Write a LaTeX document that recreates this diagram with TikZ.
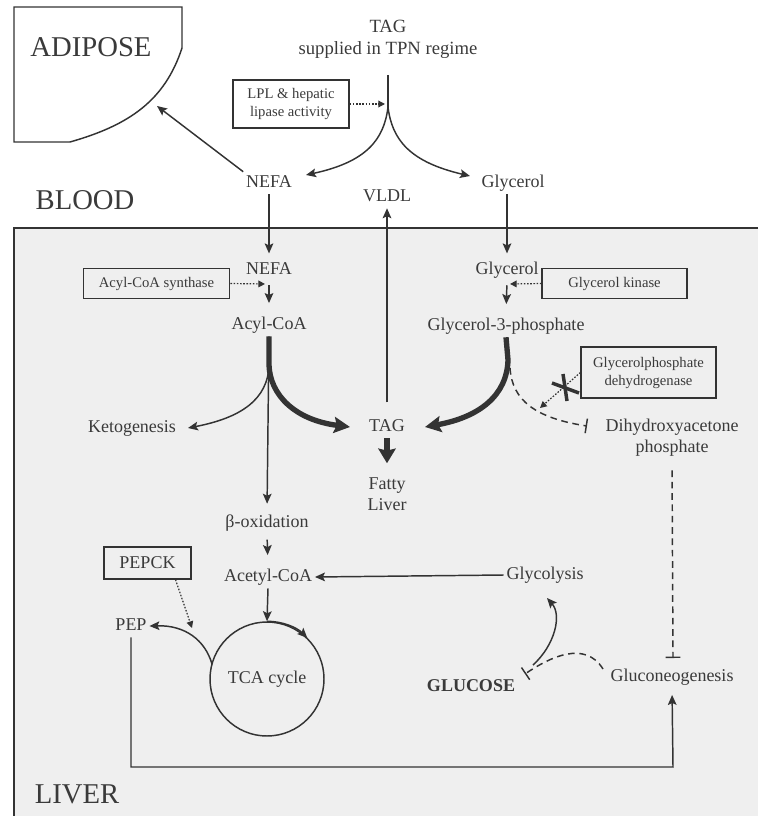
\documentclass[tikz,border=0pt]{standalone}
\usepackage{fontspec}
\setmainfont{Liberation Serif}
\usetikzlibrary{arrows.meta,calc}
\definecolor{ink}{HTML}{333333}
\definecolor{txt}{HTML}{3A3A3A}
\definecolor{liverbg}{HTML}{EFEFEF}
\newcommand\mainf{\fontsize{13.5}{16}\selectfont}
\newcommand\topf{\fontsize{14}{16.5}\selectfont}
\newcommand\smallf{\fontsize{11}{13.5}\selectfont}
\newcommand\bigf{\fontsize{21.5}{24}\selectfont}
\begin{document}
\begin{tikzpicture}[x=0.75pt,y=-0.75pt,
  tx/.style={font=\mainf, text=txt, inner sep=2pt, text height=9.5pt, text depth=3pt},
  ml/.style={font=\mainf, text=txt, inner sep=2pt, align=center},
  enz/.style={draw=ink, line width=0.9pt, font=\smallf, text=txt, align=center, inner sep=2pt},
  big/.style={font=\bigf, text=txt, inner sep=0pt},
  arr/.style={draw=ink, line width=1.1pt, -{Stealth[length=7.5pt,width=6.5pt,inset=1.5pt]}},
  plain/.style={draw=ink, line width=1.1pt},
  thk/.style={draw=ink, line width=4pt, -{Stealth[length=12pt,width=12pt,inset=2pt]}},
  dotarr/.style={draw=ink, line width=0.9pt, dash pattern=on 1.2pt off 1.2pt, -{Triangle[length=5pt,width=5pt]}},
  inh/.style={draw=ink, line width=1.1pt, dash pattern=on 5pt off 3.5pt, -{Bar[width=11pt]}},
]
\useasboundingbox (0,0) rectangle (758,816);

% liver region
\fill[liverbg] (14,228) rectangle (758,816);
\draw[plain] (758,228) -- (14,228) -- (14,816);

% adipose
\draw[draw=ink, line width=1.1pt] (14,7) -- (182,7) -- (182,48) .. controls (165,100) and (130,125) .. (70,142) -- (14,142) -- cycle;
\node[big] (adipose) at (91,47) {ADIPOSE};
\node[big] (blood) at (85,200) {BLOOD};
\node[big] (liver) at (77,794) {LIVER};

% top
\node[ml, font=\topf] (tagT) at (388,39) {TAG\\supplied in TPN regime};
\coordinate (lplTop) at (388,75);
\coordinate (split) at (388,107);
\coordinate (nefaIn) at (306,175);
\coordinate (glyIn) at (470,176);
\coordinate (lplHit) at (385,104);
\coordinate (adipIn) at (157,106);

\node[enz, minimum width=87pt, minimum height=36pt] (lpl) at (291,104) {LPL \& hepatic\\lipase activity};

\node[tx] (nefaB) at (269,183) {NEFA};
\node[tx] (glyB) at (513,183) {Glycerol};
\node[tx] (vldl) at (387,197) {VLDL};

\draw[plain] (lplTop) -- (split);
\draw[arr] (split) .. controls (384,140) and (366,162) .. (nefaIn);
\draw[arr] (split) .. controls (392,140) and (410,162) .. (glyIn);
\draw[dotarr] (lpl.east) -- (lplHit);
\draw[arr] (nefaB.north west) -- (adipIn);

% liver nodes
\node[tx] (nefaL) at (269,270) {NEFA};
\node[tx] (acyl) at (269,325) {Acyl-CoA};
\node[enz, minimum width=110pt, minimum height=23pt] (syn) at (156.5,283.5) {Acyl-CoA synthase};
\node[tx] (glyL) at (507,270) {Glycerol};
\node[tx] (g3p) at (506,326) {Glycerol-3-phosphate};
\node[enz, minimum width=108.75pt, minimum height=23pt] (kin) at (614.5,283.5) {Glycerol kinase};
\node[enz, minimum width=101.25pt, minimum height=38.25pt] (gpdh) at (648.5,372.5) {Glycerolphosphate\\dehydrogenase};
\node[tx] (keto) at (132,428) {Ketogenesis};
\node[tx] (tagL) at (387,427) {TAG};
\node[ml] (fatty) at (387,494) {Fatty\\Liver};
\node[ml] (dhap) at (672,438) {Dihydroxyacetone\\phosphate};
\node[tx] (beta) at (267,523) {β-oxidation};
\node[tx] (acetyl) at (268,577) {Acetyl-CoA};
\node[tx] (glycol) at (545,575) {Glycolysis};
\node[tx] (gluco) at (672,677) {Gluconeogenesis};
\node[tx, font=\mainf\bfseries] (glucose) at (471,687) {GLUCOSE};
\node[tx] (pep) at (131,626) {PEP};
\node[enz, font=\mainf, minimum width=65.25pt, minimum height=24pt] (pepck) at (147.5,563) {PEPCK};
\node[circle, draw=ink, line width=1.1pt, minimum size=85.5pt, inner sep=0pt, font=\mainf, text=txt] (tca) at (267,679) {TCA cycle};

% coordinates
\coordinate (synHit) at (265,284);
\coordinate (kinHit) at (510,284);
\coordinate (acylSplit) at (269,365);
\coordinate (ketoIn) at (188,428);
\coordinate (tagLIn) at (350,427);
\coordinate (tagRIn) at (425,427);
\coordinate (g3pBend) at (508,360);
\coordinate (dashStart) at (510,368);
\coordinate (dhapBar) at (587,426);
\coordinate (gpdhHit) at (540,408);
\coordinate (xc) at (565,388);
\coordinate (pbot) at (673,767);
\coordinate (glcStart) at (533,665);
\coordinate (glcBar) at (525,674);
\coordinate (glycIn) at (547,598);
\coordinate (gngOut) at (603,669);
\coordinate (gngBar) at (673,658);
\coordinate (pepOut) at (212,664);
\coordinate (pepckHit) at (192,628);

% vertical flows
\draw[arr, shorten >=4pt] (nefaB.south) -- (nefaL.north);
\draw[arr, shorten >=4pt] (glyB.south -| glyL.north) -- (glyL.north);
\draw[arr, shorten <=3pt, shorten >=8pt] (nefaL.south) -- (acyl.north);
\draw[arr, shorten <=3pt, shorten >=8pt] (glyL.south) -- (g3p.north);
\draw[dotarr] (syn.east) -- (synHit);
\draw[dotarr] (kin.west) -- (kinHit);

% acyl-CoA branches
\draw[arr, shorten >=6pt] (acyl.south) -- (beta.north);
\draw[arr] (acylSplit) .. controls (268,400) and (240,418) .. (ketoIn);
\draw[thk] (acyl.south) -- (acylSplit) .. controls (270,395) and (295,420) .. (tagLIn);

% G3P branches
\draw[thk] (g3p.south) -- (g3pBend) .. controls (507,395) and (480,417) .. (tagRIn);
\draw[inh] (dashStart) .. controls (512,400) and (535,418) .. (dhapBar);
\draw[dotarr] (gpdh.west) -- (gpdhHit);
\draw[draw=ink, line width=2.6pt] ($(xc)+(-13,-5)$) -- ($(xc)+(14,5)$);
\draw[draw=ink, line width=2.6pt] ($(xc)+(-2,-14)$) -- ($(xc)+(2,13)$);

% TAG
\draw[arr, shorten <=10pt] (tagL.north) -- (vldl.south);
\draw[draw=ink, line width=4pt, -{Stealth[length=11pt,width=13pt,inset=1.5pt]}] (tagL.south) -- ($(tagL.south)+(0,25)$) coordinate (fatIn);

% DHAP -> gluconeogenesis
\draw[inh, shorten <=8pt] (dhap.south) -- (gngBar);

% beta-ox, TCA
\draw[arr, shorten <=4pt, shorten >=8pt] (beta.south) -- (acetyl.north);
\draw[arr] (acetyl.south) -- (tca.north);
\draw[arr] (tca.north) arc[start angle=-90, end angle=-45, radius=57];
\draw[arr] (pepOut) .. controls (205,640) and (185,625) .. (pep.east);
\draw[dotarr] ($(pepck.south)+(28,0)$) -- (pepckHit);

% glycolysis
\draw[arr] (glycol.west) -- (acetyl.east);
\draw[arr] (glcStart) .. controls (555,645) and (562,615) .. (glycIn);
\draw[inh] (gngOut) .. controls (585,640) and (550,657) .. (glcBar);

% PEP -> gluconeogenesis
\draw[arr, shorten >=5pt] (pep.south) |- (pbot) -- (gluco.south);

\end{tikzpicture}
\end{document}
